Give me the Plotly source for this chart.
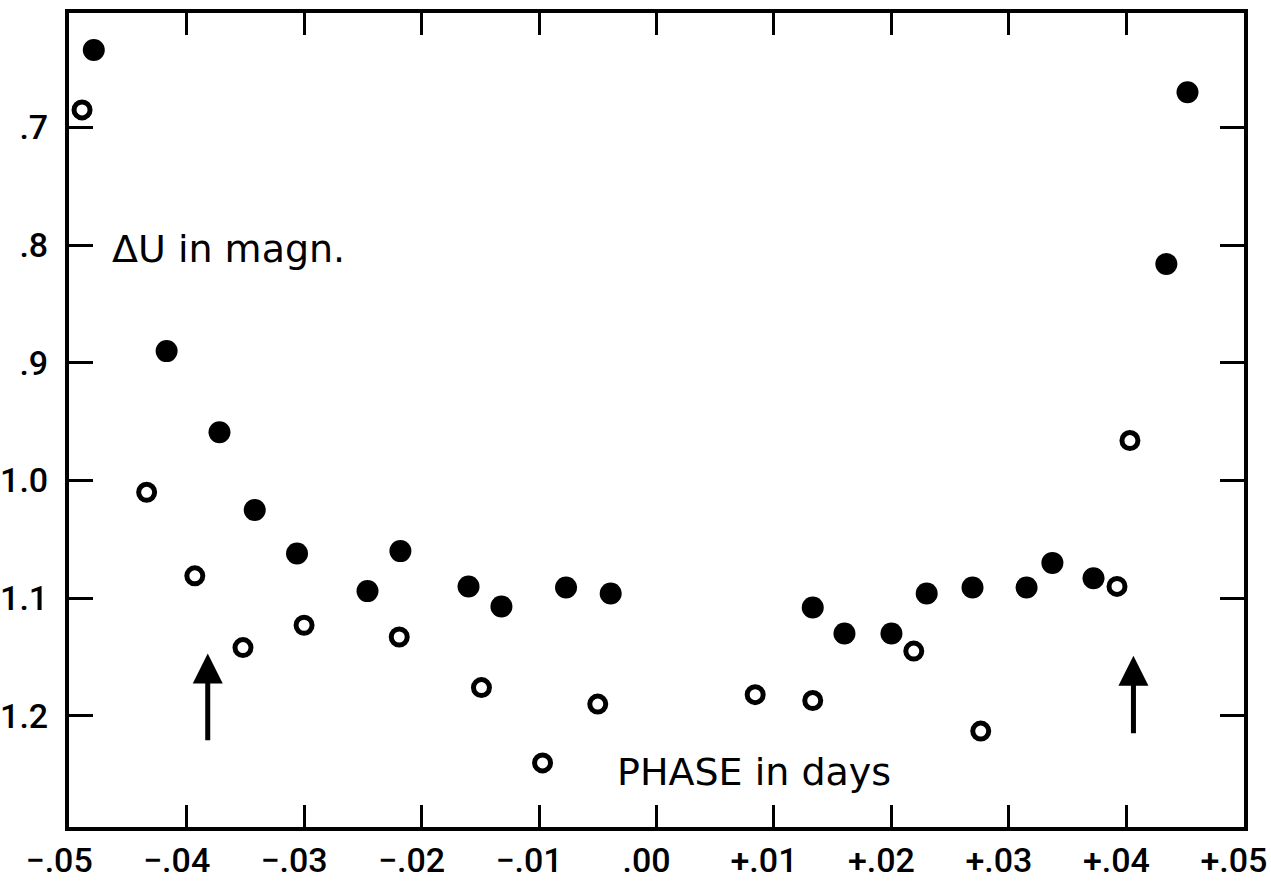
import plotly.graph_objects as go

# Filled circles (phase in days, delta U in magn.)
filled_phase = [-0.0479, -0.0417, -0.0372, -0.0342, -0.0306, -0.0218, -0.0246, -0.0160,
                -0.0132, -0.0077, -0.0039, 0.0133, 0.0160, 0.0200, 0.0230, 0.0269,
                0.0315, 0.0337, 0.0372, 0.0434, 0.0452]
filled_mag = [0.634, 0.890, 0.959, 1.025, 1.062, 1.060, 1.094, 1.090,
              1.107, 1.091, 1.096, 1.108, 1.130, 1.130, 1.096, 1.091,
              1.091, 1.070, 1.083, 0.816, 0.670]

# Open circles
open_phase = [-0.0489, -0.0434, -0.0393, -0.0352, -0.0300, -0.0219, -0.0149, -0.0097,
              -0.0050, 0.0084, 0.0133, 0.0219, 0.0276, 0.0392, 0.0403]
open_mag = [0.685, 1.010, 1.081, 1.142, 1.123, 1.133, 1.176, 1.240,
            1.190, 1.182, 1.187, 1.145, 1.213, 1.090, 0.966]

# Arrows marking phases (tip at upper end)
arrow_phase = [-0.0382, 0.0406]
arrow_tip = [1.147, 1.149]
arrow_tail = [1.222, 1.216]

x_tickvals = [-0.05, -0.04, -0.03, -0.02, -0.01, 0.0, 0.01, 0.02, 0.03, 0.04, 0.05]
x_ticktext = ["−.05", "−.04", "−.03", "−.02", "−.01", ".00", "+.01", "+.02", "+.03", "+.04", "+.05"]
y_tickvals = [0.7, 0.8, 0.9, 1.0, 1.1, 1.2]
y_ticktext = [".7", ".8", ".9", "1.0", "1.1", "1.2"]

TICKFONT = dict(family="Roboto, DejaVu Sans, sans-serif", size=34, color="black", weight=500)
TEXTFONT = dict(family="DejaVu Sans, sans-serif", size=38, color="black")

fig = go.Figure()
fig.add_trace(go.Scatter(
    x=filled_phase, y=filled_mag, mode="markers",
    marker=dict(symbol="circle", size=22, color="black", line=dict(width=0)),
    showlegend=False, hoverinfo="skip", cliponaxis=False))
fig.add_trace(go.Scatter(
    x=open_phase, y=open_mag, mode="markers",
    marker=dict(symbol="circle-open", size=16, color="black", line=dict(width=5, color="black")),
    showlegend=False, hoverinfo="skip", cliponaxis=False))

for xp, yt, ya in zip(arrow_phase, arrow_tip, arrow_tail):
    fig.add_annotation(x=xp, y=yt, ax=xp, ay=ya, xref="x", yref="y", axref="x", ayref="y",
                       text="", showarrow=True, arrowhead=2, arrowsize=1.2, arrowwidth=5,
                       arrowcolor="black", standoff=0, startstandoff=0)

fig.add_annotation(text="ΔU in magn.", xref="paper", yref="paper", x=0.035, y=0.71,
                   xanchor="left", yanchor="middle", showarrow=False, font=TEXTFONT)
fig.add_annotation(text="PHASE in days", xref="paper", yref="paper", x=0.4647, y=0.0676,
                   xanchor="left", yanchor="middle", showarrow=False, font=TEXTFONT)

axis_common = dict(showgrid=False, zeroline=False, showline=True, linecolor="black",
                   linewidth=4, mirror="allticks", ticks="inside", tickcolor="black",
                   tickwidth=3, tickfont=TICKFONT, automargin=False, ticklabeloverflow="allow")

fig.update_xaxes(range=[-0.05001, 0.05001], tickvals=x_tickvals, ticktext=x_ticktext,
                 ticklen=22, ticklabelstandoff=0, ticklabelshift=-10, **axis_common)
fig.update_yaxes(range=[1.2945, 0.6026], tickvals=y_tickvals, ticktext=y_ticktext,
                 ticklen=24, ticklabelstandoff=10, **axis_common)

fig.update_layout(width=1271, height=881, margin=dict(l=69, r=27, t=13, b=54),
                  paper_bgcolor="white", plot_bgcolor="white")

fig.write_html("out.html", config={"displayModeBar": False},
               post_script="document.body.style.margin='0';document.body.style.overflow='hidden';")
